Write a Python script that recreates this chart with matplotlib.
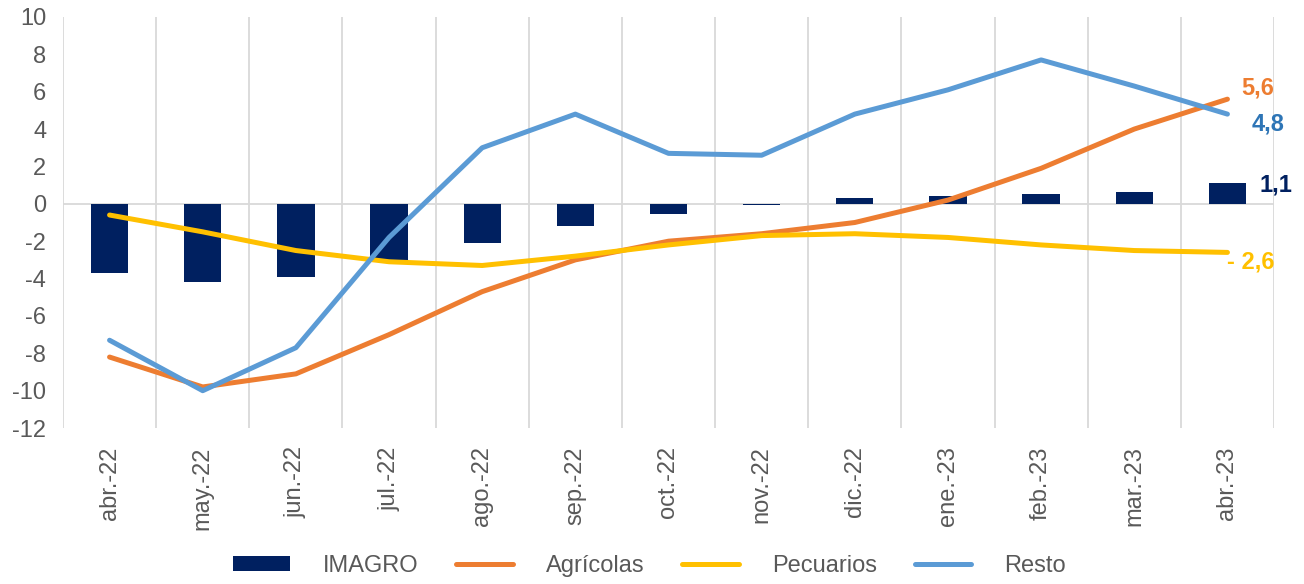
import matplotlib.pyplot as plt
import numpy as np

plt.rcParams['font.family'] = ['Liberation Sans', 'DejaVu Sans']
plt.rcParams['axes.unicode_minus'] = False

meses = ["abr.-22", "may.-22", "jun.-22", "jul.-22", "ago.-22", "sep.-22", "oct.-22",
         "nov.-22", "dic.-22", "ene.-23", "feb.-23", "mar.-23", "abr.-23"]
imagro = [-3.7, -4.2, -3.9, -3.1, -2.1, -1.2, -0.55, -0.05, 0.3, 0.4, 0.5, 0.65, 1.1]
agricolas = [-8.2, -9.8, -9.1, -7.0, -4.7, -3.0, -2.0, -1.6, -1.0, 0.2, 1.9, 4.0, 5.6]
pecuarios = [-0.6, -1.5, -2.5, -3.1, -3.3, -2.8, -2.2, -1.7, -1.6, -1.8, -2.2, -2.5, -2.6]
resto = [-7.3, -10.0, -7.7, -1.8, 3.0, 4.8, 2.7, 2.6, 4.8, 6.1, 7.7, 6.3, 4.8]

c_imagro = "#002060"
c_agr = "#ED7D31"
c_pec = "#FFC000"
c_resto = "#5B9BD5"
gris = "#595959"

x = np.arange(len(meses))

fig = plt.figure(figsize=(13.04, 5.84), dpi=100)
ax = fig.add_axes([0.0483, 0.267, 0.9287, 0.704])

for b in np.arange(-0.5, len(meses), 1.0):
    ax.axvline(b, color="#D9D9D9", lw=1.3, zorder=0)
ax.axhline(0, color="#D9D9D9", lw=1.3, zorder=0)

barras = ax.bar(x, imagro, width=0.4, color=c_imagro, label="IMAGRO", zorder=2)
l1, = ax.plot(x, agricolas, color=c_agr, lw=3.6, solid_capstyle="round", label="Agrícolas", zorder=3)
l2, = ax.plot(x, pecuarios, color=c_pec, lw=3.6, solid_capstyle="round", label="Pecuarios", zorder=3)
l3, = ax.plot(x, resto, color=c_resto, lw=3.6, solid_capstyle="round", label="Resto", zorder=4)

ax.set_xlim(-0.5, len(meses) - 0.5)
ax.set_ylim(-12, 10)
ax.set_yticks(np.arange(-12, 11, 2))
ax.set_xticks(x)
ax.set_xticklabels(meses, rotation=90)
ax.tick_params(axis="both", length=0, labelsize=17, labelcolor=gris)
ax.tick_params(axis="y", pad=12)
ax.tick_params(axis="x", pad=13)
for s in ax.spines.values():
    s.set_visible(False)

last = len(meses) - 1
ax.annotate("5,6", (last, agricolas[-1]), xytext=(14, 11), textcoords="offset pixels",
            color=c_agr, fontsize=17, fontweight="bold", va="center", ha="left")
ax.annotate("4,8", (last, resto[-1]), xytext=(24, -10), textcoords="offset pixels",
            color="#2E75B6", fontsize=17, fontweight="bold", va="center", ha="left")
ax.annotate("1,1", (last, imagro[-1]), xytext=(32, -2), textcoords="offset pixels",
            color=c_imagro, fontsize=17, fontweight="bold", va="center", ha="left")
ax.annotate("- 2,6", (last, pecuarios[-1]), xytext=(0, -10), textcoords="offset pixels",
            color=c_pec, fontsize=17, fontweight="bold", va="center", ha="left")

fig.legend([barras, l1, l2, l3], ["IMAGRO", "Agrícolas", "Pecuarios", "Resto"],
           loc="center", bbox_to_anchor=(0.498, 0.031), ncol=4, frameon=False,
           fontsize=17, labelcolor=gris, handlelength=2.4, handleheight=0.6,
           handletextpad=1.4, columnspacing=1.6)

fig.savefig("out.png", dpi=100)
